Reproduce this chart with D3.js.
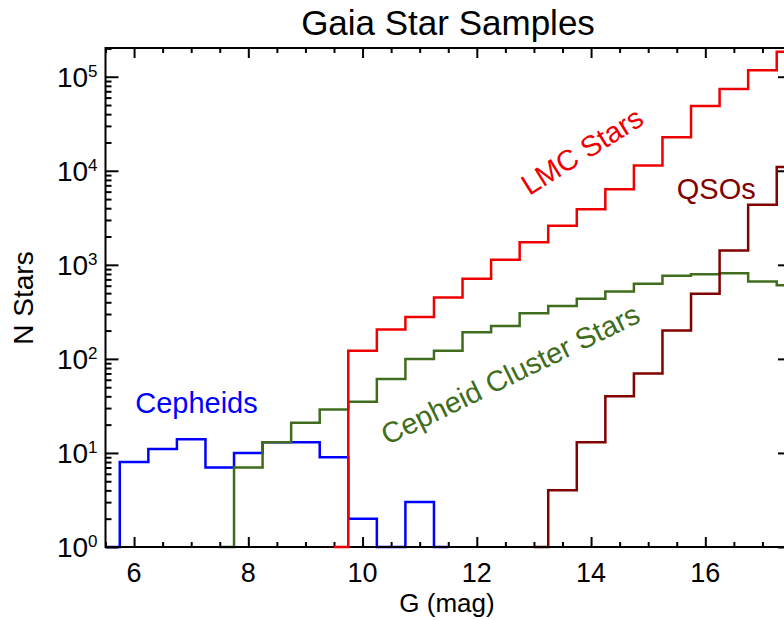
<!DOCTYPE html>
<html>
<head>
<meta charset="utf-8">
<script src="https://cdn.jsdelivr.net/npm/d3@7"></script>
<style>
  body { margin: 0; background: #fff; }
  svg { display: block; font-family: "Liberation Sans", Arial, Helvetica, sans-serif; }
</style>
</head>
<body>
<svg id="chart" width="784" height="620"></svg>
<script>
// bin centres (mag), 0.5 mag wide
const magBins = [5.5, 6.0, 6.5, 7.0, 7.5, 8.0, 8.5, 9.0, 9.5, 10.0, 10.5, 11.0, 11.5,
                 12.0, 12.5, 13.0, 13.5, 14.0, 14.5, 15.0, 15.5, 16.0, 16.5, 17.0, 17.5];

// counts per bin, null = not plotted
const cepheids = [0, 8, 11, 14, 7, 10, 13, 13, 9, 2, 0, 3, 0,
                  null, null, null, null, null, null, null, null, null, null, null, null];
const clusterStars = [null, null, null, null, 0, 7, 13, 21, 29, 35, 61, 100, 122,
                      192, 224, 306, 366, 435, 520, 628, 764, 795, 815, 664, 608];
const qsos = [null, null, null, null, null, null, null, null, null, null, null, null, null,
              null, null, 0, 4, 13, 40, 70, 200, 492, 1420, 4350, 11000];
const lmcStars = [null, null, null, null, null, null, null, null, 0, 122, 205, 278, 450,
                  712, 1130, 1740, 2600, 3900, 6350, 11400, 22700, 48700, 74000, 117000, 184000];

const xMajorTicks = [6, 8, 10, 12, 14, 16];
const yMajorTicks = [1, 10, 100, 1000, 10000, 100000];

const series = [
    { name: "Cepheids", values: cepheids, color: "#0000ff" },
    { name: "Cepheid Cluster Stars", values: clusterStars, color: "#3f6d1d" },
    { name: "QSOs", values: qsos, color: "#820000" },
    { name: "LMC Stars", values: lmcStars, color: "#ee0000" }
];

// label anchor points in data units
const labels = [
    { text: "Cepheids", mag: 6.02, n: 26.5, angle: 0, color: "#0000ff" },
    { text: "Cepheid Cluster Stars", mag: 10.43, n: 12.0, angle: -26, color: "#3f6d1d" },
    { text: "QSOs", mag: 15.5, n: 5000, angle: 0, color: "#820000" },
    { text: "LMC Stars", mag: 12.92, n: 5400, angle: -32, color: "#ee0000" }
];

const margin = { top: 48, left: 105.5, bottom: 73 };
const plotRight = 791; // frame runs just past the window edge
const height = 620;

const svg = d3.select("#chart");

const x = d3.scaleLinear().domain([5.5, 17.5]).range([margin.left, plotRight]);
const y = d3.scaleLog().domain([1, 2.02e5]).range([height - margin.bottom, margin.top]);

const yMin = y.domain()[0];

// IDL psym=10 style: first/last bins drawn half width
function stepPoints(values) {
    const pts = [];
    const idx = values.map((v, i) => v === null ? -1 : i).filter(i => i >= 0);
    idx.forEach((i, k) => {
        const c = magBins[i];
        const v = Math.max(values[i], yMin);
        const lo = k === 0 ? c : c - 0.25;
        const hi = k === idx.length - 1 ? c : c + 0.25;
        pts.push([lo, v]);
        pts.push([hi, v]);
    });
    return pts;
}

const line = d3.line()
    .x(d => x(d[0]))
    .y(d => y(d[1]));

function drawSeries(s) {
    svg.append("path")
        .attr("d", line(stepPoints(s.values)))
        .attr("fill", "none")
        .attr("stroke", s.color)
        .attr("stroke-width", 2.5)
        .attr("stroke-linejoin", "miter");
}

series.slice(0, 3).forEach(drawSeries);

// axes
const xMinor = d3.range(5.5, 17.51, 0.5).filter(v => v % 2 !== 0);
const yMinor = [];
for (let e = 0; e <= 5; e++) {
    for (let m = 2; m <= 9; m++) {
        const v = m * Math.pow(10, e);
        if (v <= y.domain()[1]) yMinor.push(v);
    }
}

const axisG = svg.append("g").attr("class", "axes");

function styleAxis(g) {
    g.select(".domain").remove();
    g.selectAll(".tick line").attr("stroke", "#000").attr("stroke-width", 2);
}

const yBottom = y.range()[0];
const yTop = y.range()[1];

axisG.append("g").attr("transform", `translate(0,${yBottom})`)
    .call(d3.axisBottom(x).tickValues(xMajorTicks).tickSize(-10).tickFormat(""))
    .call(styleAxis);
axisG.append("g").attr("transform", `translate(0,${yBottom})`)
    .call(d3.axisBottom(x).tickValues(xMinor).tickSize(-5).tickFormat(""))
    .call(styleAxis);
axisG.append("g").attr("transform", `translate(0,${yTop})`)
    .call(d3.axisTop(x).tickValues(xMajorTicks).tickSize(-10).tickFormat(""))
    .call(styleAxis);
axisG.append("g").attr("transform", `translate(0,${yTop})`)
    .call(d3.axisTop(x).tickValues(xMinor).tickSize(-5).tickFormat(""))
    .call(styleAxis);

axisG.append("g").attr("transform", `translate(${margin.left},0)`)
    .call(d3.axisLeft(y).tickValues(yMajorTicks).tickSize(-13).tickFormat(""))
    .call(styleAxis);
axisG.append("g").attr("transform", `translate(${margin.left},0)`)
    .call(d3.axisLeft(y).tickValues(yMinor).tickSize(-6).tickFormat(""))
    .call(styleAxis);
axisG.append("g").attr("transform", `translate(${plotRight},0)`)
    .call(d3.axisRight(y).tickValues(yMajorTicks).tickSize(-13).tickFormat(""))
    .call(styleAxis);
axisG.append("g").attr("transform", `translate(${plotRight},0)`)
    .call(d3.axisRight(y).tickValues(yMinor).tickSize(-6).tickFormat(""))
    .call(styleAxis);

// frame
axisG.append("rect")
    .attr("x", margin.left)
    .attr("y", yTop)
    .attr("width", plotRight - margin.left)
    .attr("height", yBottom - yTop)
    .attr("fill", "none")
    .attr("stroke", "#000")
    .attr("stroke-width", 2);

// LMC drawn over the frame
drawSeries(series[3]);

// tick labels
svg.append("g").selectAll("text")
    .data(xMajorTicks)
    .join("text")
    .attr("x", d => x(d))
    .attr("y", yBottom + 35)
    .attr("text-anchor", "middle")
    .attr("font-size", 27)
    .text(d => d);

const yLab = svg.append("g").selectAll("text")
    .data(yMajorTicks)
    .join("text")
    .attr("x", margin.left - 8)
    .attr("y", d => y(d) + 10)
    .attr("text-anchor", "end")
    .attr("font-size", 28);
yLab.append("tspan").text("10");
yLab.append("tspan")
    .attr("font-size", 17)
    .attr("dy", -10)
    .text(d => Math.round(Math.log10(d)));

// titles
svg.append("text")
    .attr("x", 448)
    .attr("y", 35)
    .attr("text-anchor", "middle")
    .attr("font-size", 35)
    .text("Gaia Star Samples");

svg.append("text")
    .attr("x", 447)
    .attr("y", 612)
    .attr("text-anchor", "middle")
    .attr("font-size", 26)
    .text("G (mag)");

svg.append("text")
    .attr("transform", "translate(33,298) rotate(-90)")
    .attr("text-anchor", "middle")
    .attr("font-size", 28)
    .text("N Stars");

// series labels
svg.append("g").selectAll("text")
    .data(labels)
    .join("text")
    .attr("transform", d => `translate(${x(d.mag)},${y(d.n)}) rotate(${d.angle})`)
    .attr("fill", d => d.color)
    .attr("font-size", 29)
    .text(d => d.text);
</script>
</body>
</html>
